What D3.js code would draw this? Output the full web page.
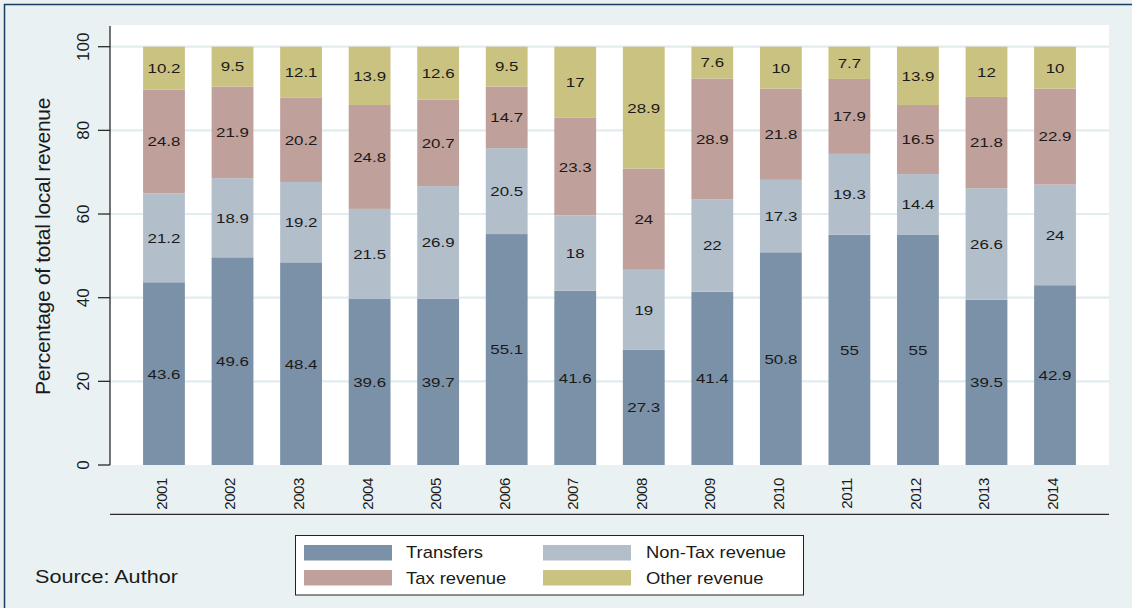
<!DOCTYPE html>
<html>
<head>
<meta charset="utf-8">
<script src="https://cdn.jsdelivr.net/npm/d3@7"></script>
<style>
  html, body { margin: 0; padding: 0; background: #e9f1f3; }
  svg { display: block; font-family: "Liberation Sans", Arial, sans-serif; }
</style>
</head>
<body>
<svg id="chart" width="1132" height="608"></svg>
<script>
// ---- data ----
const years = ["2001","2002","2003","2004","2005","2006","2007","2008","2009","2010","2011","2012","2013","2014"];
const seriesNames = ["Transfers", "Non-Tax revenue", "Tax revenue", "Other revenue"];
const transfers = [43.6, 49.6, 48.4, 39.6, 39.7, 55.1, 41.6, 27.3, 41.4, 50.8, 55, 55, 39.5, 42.9];
const nonTax    = [21.2, 18.9, 19.2, 21.5, 26.9, 20.5, 18, 19, 22, 17.3, 19.3, 14.4, 26.6, 24];
const tax       = [24.8, 21.9, 20.2, 24.8, 20.7, 14.7, 23.3, 24, 28.9, 21.8, 17.9, 16.5, 21.8, 22.9];
const other     = [10.2, 9.5, 12.1, 13.9, 12.6, 9.5, 17, 28.9, 7.6, 10, 7.7, 13.9, 12, 10];
const yTicks = [0, 20, 40, 60, 80, 100];
const yTitle = "Percentage of total local revenue";
const sourceNote = "Source: Author";

const colors = ["#7b91a8", "#b3becb", "#c0a09b", "#cac280"];
const seriesValues = [transfers, nonTax, tax, other];

// ---- layout ----
const svg = d3.select("#chart");
const W = 1132, H = 608;
const plot = { left: 110, right: 1109, top: 25, bottom: 465 };

svg.append("rect").attr("x", 0).attr("y", 0).attr("width", W).attr("height", H).attr("fill", "#e9f1f3");
svg.append("rect").attr("x", 4.5).attr("y", 4.5).attr("width", W + 20).attr("height", H + 20)
  .attr("fill", "none").attr("stroke", "#1e3d66").attr("stroke-width", 1.5);

svg.append("rect").attr("x", plot.left).attr("y", plot.top)
  .attr("width", plot.right - plot.left).attr("height", plot.bottom - plot.top).attr("fill", "#ffffff");

const x = d3.scaleBand().domain(years).range([plot.left, plot.right])
  .paddingInner(0.39).paddingOuter(0.4825);
const y = d3.scaleLinear().domain([0, 100]).range([465, 46.7]);

// gridlines
svg.append("g").selectAll("line").data(yTicks.filter(d => d > 0)).join("line")
  .attr("x1", plot.left).attr("x2", plot.right)
  .attr("y1", d => y(d)).attr("y2", d => y(d))
  .attr("stroke", "#e2ecef").attr("stroke-width", 2.2);

// stacked data (normalized to 100 %)
const table = years.map((yr, i) => {
  const row = { year: yr };
  const total = seriesValues.reduce((s, arr) => s + arr[i], 0);
  seriesNames.forEach((n, k) => { row[n] = seriesValues[k][i] * 100 / total; row["raw_" + n] = seriesValues[k][i]; });
  return row;
});
const stack = d3.stack().keys(seriesNames)(table);

const gBars = svg.append("g");
stack.forEach((layer, k) => {
  gBars.append("g").attr("fill", colors[k]).selectAll("rect").data(layer).join("rect")
    .attr("x", d => x(d.data.year))
    .attr("width", x.bandwidth())
    .attr("y", d => y(d[1]))
    .attr("height", d => y(d[0]) - y(d[1]));
});

// labels
const gLab = svg.append("g").attr("font-size", 13.5).attr("fill", "#1a1a1a").attr("text-anchor", "middle");
stack.forEach((layer, k) => {
  gLab.append("g").selectAll("text").data(layer).join("text")
    .attr("transform", d => `translate(${x(d.data.year) + x.bandwidth() / 2},${(y(d[0]) + y(d[1])) / 2}) scale(1.25,1)`)
    .attr("dy", "0.36em")
    .text(d => d.data["raw_" + seriesNames[k]]);
});

// y axis
const gy = svg.append("g");
gy.append("line").attr("x1", plot.left).attr("x2", plot.left).attr("y1", plot.top + 1).attr("y2", plot.bottom)
  .attr("stroke", "#2a2a2a").attr("stroke-width", 1.3);
gy.selectAll("line.tick").data(yTicks).join("line").attr("class", "tick")
  .attr("x1", 98).attr("x2", plot.left).attr("y1", d => y(d)).attr("y2", d => y(d))
  .attr("stroke", "#2a2a2a").attr("stroke-width", 1.3);
gy.selectAll("text").data(yTicks).join("text")
  .attr("transform", d => `translate(83,${y(d)}) rotate(-90)`)
  .attr("text-anchor", "middle").attr("dy", "0.36em")
  .attr("font-size", 17).attr("fill", "#1a1a1a")
  .text(d => d);

svg.append("text")
  .attr("transform", `translate(42.5,246.5) rotate(-90)`)
  .attr("text-anchor", "middle").attr("dy", "0.36em")
  .attr("font-size", 21).attr("letter-spacing", -0.3).attr("fill", "#1a1a1a")
  .text(yTitle);

// x axis
svg.append("line").attr("x1", plot.left).attr("x2", plot.right).attr("y1", 514.3).attr("y2", 514.3)
  .attr("stroke", "#2a2a2a").attr("stroke-width", 1.3);
svg.append("g").selectAll("text").data(years).join("text")
  .attr("transform", d => `translate(${x(d) + x.bandwidth() / 2 - 2.5},478) rotate(-90)`)
  .attr("text-anchor", "end").attr("dy", "0.36em")
  .attr("font-size", 15).attr("letter-spacing", -0.4).attr("fill", "#1a1a1a")
  .text(d => d);

// legend
const lg = svg.append("g");
lg.append("rect").attr("x", 295.5).attr("y", 535.5).attr("width", 508).attr("height", 59.5)
  .attr("fill", "#ffffff").attr("stroke", "#222").attr("stroke-width", 1);
const legPos = [
  { sx: 304, sy: 545, tx: 406, ty: 558 },
  { sx: 543, sy: 545, tx: 646, ty: 558 },
  { sx: 304, sy: 570, tx: 406, ty: 583.5 },
  { sx: 543, sy: 570, tx: 646, ty: 583.5 }
];
const legItems = seriesNames.map((n, i) => ({ name: n, color: colors[i] }));
lg.selectAll("rect.sw").data(legItems).join("rect").attr("class", "sw")
  .attr("x", (d, i) => legPos[i].sx).attr("y", (d, i) => legPos[i].sy)
  .attr("width", 88).attr("height", 15.5).attr("fill", d => d.color);
lg.selectAll("text").data(legItems).join("text")
  .attr("transform", (d, i) => `translate(${legPos[i].tx},${legPos[i].ty}) scale(1.15,1)`)
  .attr("font-size", 16).attr("fill", "#1a1a1a")
  .text(d => d.name);

// source
svg.append("text").attr("transform", "translate(35,582.5) scale(1.2,1)")
  .attr("font-size", 18).attr("fill", "#1a1a1a").text(sourceNote);
</script>
</body>
</html>
